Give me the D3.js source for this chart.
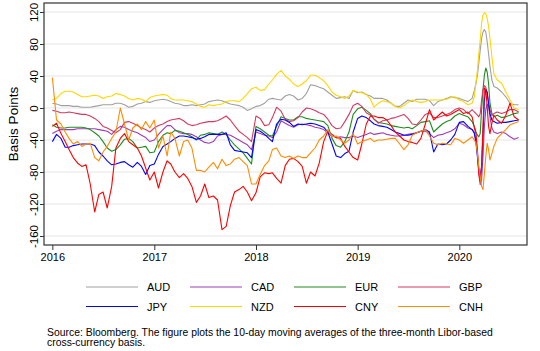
<!DOCTYPE html>
<html>
<head>
<meta charset="utf-8">
<script src="https://cdn.jsdelivr.net/npm/d3@7"></script>
<style>
  body { margin: 0; background: #fff; }
  svg { display: block; font-family: "Liberation Sans", Arial, sans-serif; }
</style>
</head>
<body>
<div id="chart"></div>
<script>
// semi-monthly observation dates, denser around the March 2020 spike
const dates = (
  "2016-01-01 2016-01-16 2016-02-01 2016-02-16 2016-03-01 2016-03-16 2016-04-01 2016-04-16 2016-05-01 2016-05-16 2016-06-01 2016-06-16 " +
  "2016-07-01 2016-07-16 2016-08-01 2016-08-16 2016-09-01 2016-09-16 2016-10-01 2016-10-16 2016-11-01 2016-11-16 2016-12-01 2016-12-16 " +
  "2017-01-01 2017-01-16 2017-02-01 2017-02-16 2017-03-01 2017-03-16 2017-04-01 2017-04-16 2017-05-01 2017-05-16 2017-06-01 2017-06-16 " +
  "2017-07-01 2017-07-16 2017-08-01 2017-08-16 2017-09-01 2017-09-16 2017-10-01 2017-10-16 2017-11-01 2017-11-16 2017-12-01 2017-12-16 " +
  "2018-01-01 2018-01-16 2018-02-01 2018-02-16 2018-03-01 2018-03-16 2018-04-01 2018-04-16 2018-05-01 2018-05-16 2018-06-01 2018-06-16 " +
  "2018-07-01 2018-07-16 2018-08-01 2018-08-16 2018-09-01 2018-09-16 2018-10-01 2018-10-16 2018-11-01 2018-11-16 2018-12-01 2018-12-16 " +
  "2019-01-01 2019-01-16 2019-02-01 2019-02-16 2019-03-01 2019-03-16 2019-04-01 2019-04-16 2019-05-01 2019-05-16 2019-06-01 2019-06-16 " +
  "2019-07-01 2019-07-16 2019-08-01 2019-08-16 2019-09-01 2019-09-16 2019-10-01 2019-10-16 2019-11-01 2019-11-16 2019-12-01 2019-12-16 " +
  "2020-01-01 2020-01-16 2020-02-01 2020-02-16 2020-02-24 2020-03-01 2020-03-06 2020-03-11 2020-03-16 2020-03-21 2020-03-26 2020-03-31 " +
  "2020-04-05 2020-04-10 2020-04-15 2020-04-20 2020-04-27 2020-05-04 2020-05-16 2020-06-01 2020-06-16 2020-07-01 2020-07-16 2020-08-01"
).split(" ");

const aud = [
  6,5,3,3,3,2,2,1,1,1,2,3,4,4,4,6,6,4,1,2,5,6,8,7,
  9,10,11,10,8,6,5,3,3,4,3,4,5,8,9,10,9,7,5,4,3,1,-3,-1,
  2,3,6,11,12,11,10,15,17,15,10,12,18,29,28,26,24,20,16,12,13,14,12,22,
  19,20,17,15,12,12,12,10,6,2,2,6,10,8,11,11,11,9,3,8,10,12,14,13,
  12,10,8,12,22,31,41,56,72,87,95,98,95,83,68,52,35,27,25,20,14,6,4,4
];
const cad = [
  -32,-29,-27,-27,-27,-27,-26,-26,-26,-26,-26,-27,-28,-29,-33,-27,-23,-24,-27,-29,-31,-34,-37,-42,
  -40,-33,-27,-22,-22,-27,-31,-32,-32,-33,-36,-40,-43,-44,-42,-35,-33,-33,-34,-37,-40,-43,-46,-52,
  -30,-32,-34,-35,-37,-30,-16,-19,-22,-24,-21,-20,-21,-22,-24,-25,-27,-31,-35,-37,-36,-37,-37,-35,
  -37,-35,-33,-31,-33,-32,-31,-33,-34,-35,-35,-34,-33,-32,-31,-29,-29,-32,-37,-34,-33,-31,-29,-26,
  -19,-21,-25,-27,-30,-40,-57,-82,-96,-90,-61,-23,-2,5,2,-11,-25,-30,-32,-30,-32,-36,-39,-37
];
const eur = [
  -21,-24,-25,-25,-24,-24,-24,-24,-25,-27,-31,-35,-42,-50,-54,-52,-46,-39,-38,-42,-50,-49,-48,-56,
  -55,-42,-34,-31,-32,-28,-29,-31,-33,-36,-40,-34,-33,-31,-32,-33,-30,-33,-40,-46,-51,-56,-63,-70,
  -23,-26,-30,-34,-35,-23,-11,-13,-15,-15,-11,-11,-13,-14,-15,-16,-17,-22,-38,-47,-49,-42,-30,-8,
  -1,1,-3,-7,-14,-18,-19,-20,-22,-23,-24,-25,-24,-26,-22,-18,-17,-16,-30,-25,-20,-17,-15,-10,
  -7,-9,-11,-17,-23,-30,-34,-36,-32,-2,23,41,50,45,31,6,-7,-11,-9,-12,-11,-9,-7,-6
];
const gbp = [
  -3,-4,-6,-6,-5,-6,-7,-8,-8,-10,-13,-17,-23,-25,-28,-31,-27,-18,-17,-19,-22,-25,-27,-30,
  -25,-22,-20,-17,-15,-14,-13,-16,-20,-22,-21,-19,-18,-17,-17,-16,-13,-10,-15,-22,-29,-33,-37,-42,
  -10,-13,-22,-21,-12,1,-4,-14,-17,-16,-12,-5,0,-1,-3,-6,-8,-14,-22,-26,-25,-17,-8,3,
  6,2,-6,-9,-14,-19,-16,-15,-13,-12,-10,-8,-13,-20,-21,-15,-8,-6,-12,-12,-10,-8,-6,-2,
  0,-2,-7,-2,-5,-7,-9,-11,-7,10,23,28,26,18,6,-2,-9,-7,-5,-7,-5,-2,-2,-5
];
const jpy = [
  -42,-33,-38,-49,-49,-47,-46,-45,-45,-45,-47,-55,-60,-66,-71,-70,-68,-67,-71,-74,-68,-73,-83,-72,
  -70,-58,-48,-45,-42,-38,-35,-35,-36,-37,-39,-38,-36,-33,-33,-33,-33,-31,-46,-53,-54,-55,-56,-62,
  -27,-29,-33,-38,-42,-20,-14,-15,-18,-23,-20,-21,-20,-19,-20,-22,-24,-30,-45,-60,-62,-57,-54,-30,
  -13,-10,-12,-16,-20,-22,-23,-24,-27,-30,-32,-34,-34,-33,-31,-29,-27,-30,-55,-45,-46,-45,-40,-33,
  -18,-17,-23,-27,-32,-44,-61,-77,-86,-73,-32,10,23,20,6,-7,-15,-17,-19,-18,-18,-17,-16,-15
];
const nzd = [
  10,12,18,21,21,20,17,14,14,15,16,15,12,14,15,18,17,15,12,10,12,11,8,13,
  15,16,17,16,12,10,10,10,9,8,5,2,1,4,3,4,5,8,9,9,8,12,18,24,
  26,22,23,30,35,42,47,40,36,30,27,30,34,41,41,38,34,28,20,16,14,12,15,22,
  20,19,17,11,1,6,9,8,6,2,0,3,7,10,8,7,8,10,10,10,10,11,13,14,
  10,8,4,6,14,33,47,68,85,106,116,119,118,112,102,87,64,43,35,31,20,10,0,-2
];
const cny = [
  -23,-19,-32,-42,-52,-62,-69,-73,-71,-95,-130,-108,-105,-125,-98,-50,-38,-32,-42,-46,-50,-60,-75,-90,
  -80,-100,-80,-66,-70,-80,-87,-82,-88,-98,-118,-110,-95,-112,-110,-115,-152,-148,-122,-105,-102,-98,-105,-116,
  -106,-86,-81,-82,-81,-88,-94,-72,-64,-63,-67,-73,-94,-80,-85,-69,-42,-29,-33,-37,-38,-48,-55,-62,
  -65,-45,-20,-10,-10,-12,-12,-15,-22,-30,-35,-40,-42,-43,-45,-38,-20,-2,-15,-10,-5,-10,-8,-5,
  -2,-7,-5,-11,-25,-32,-52,-82,-92,-73,-23,25,23,2,-23,-32,-19,-9,-15,-19,-9,6,-11,-15
];
const cnh = [
  38,-15,-20,-30,-38,-45,-42,-48,-45,-44,-62,-66,-55,-48,-38,-30,0,-20,-40,-25,-20,-27,-17,-25,
  -15,-50,-35,-60,-30,-38,-60,-42,-40,-50,-78,-78,-80,-74,-68,-76,-64,-72,-70,-64,-62,-67,-72,-95,
  -95,-83,-72,-66,-52,-50,-60,-62,-60,-63,-60,-62,-62,-56,-50,-40,-35,-27,-36,-35,-40,-44,-40,-32,
  -45,-42,-40,-38,-42,-40,-40,-39,-38,-38,-45,-52,-46,-34,-31,-29,-27,-35,-44,-46,-44,-45,-46,-38,
  -40,-44,-40,-36,-40,-44,-57,-73,-86,-98,-102,-82,-61,-44,-52,-65,-57,-48,-38,-32,-27,-21,-19,-17
];

const names = ["AUD", "CAD", "EUR", "GBP", "JPY", "NZD", "CNY", "CNH"];
const values = [aud, cad, eur, gbp, jpy, nzd, cny, cnh];
const colors = ["#a0a0a0", "#a03cb4", "#1e8c1e", "#d33a62", "#0000ff", "#ffd700", "#ff0000", "#ff8c00"];
const yTicks = [-160, -120, -80, -40, 0, 40, 80, 120];
const yearTicks = ["2016", "2017", "2018", "2019", "2020"];

const width = 540, height = 351;
const plot = { left: 44, top: 3, right: 527, bottom: 245 };

const parse = d3.timeParse("%Y-%m-%d");
const parsedDates = dates.map(parse);

const svg = d3.select("#chart").append("svg")
  .attr("width", width)
  .attr("height", height);

// -----------------------------
// Scales
// -----------------------------
const x = d3.scaleTime()
  .domain([parse("2015-12-02"), parse("2020-08-31")])
  .range([plot.left, plot.right]);

const y = d3.scaleLinear()
  .domain([-171.25, 131.25])
  .range([plot.bottom, plot.top]);

// -----------------------------
// Grid
// -----------------------------
svg.append("g")
  .selectAll("line")
  .data(yTicks)
  .join("line")
  .attr("x1", plot.left)
  .attr("x2", plot.right)
  .attr("y1", d => y(d))
  .attr("y2", d => y(d))
  .attr("stroke", "#e6e6e6")
  .attr("stroke-width", 1.2);

// -----------------------------
// Lines
// -----------------------------
const line = d3.line()
  .x((d, i) => x(parsedDates[i]))
  .y(d => y(d));

svg.append("g")
  .selectAll("path")
  .data(values)
  .join("path")
  .attr("fill", "none")
  .attr("stroke", (d, i) => colors[i])
  .attr("stroke-width", 1.1)
  .attr("stroke-linejoin", "round")
  .attr("d", line);

// -----------------------------
// Frame and axes
// -----------------------------
svg.append("rect")
  .attr("x", plot.left)
  .attr("y", plot.top)
  .attr("width", plot.right - plot.left)
  .attr("height", plot.bottom - plot.top)
  .attr("fill", "none")
  .attr("stroke", "#333")
  .attr("stroke-width", 1.2);

const yAxis = svg.append("g")
  .attr("transform", `translate(${plot.left},0)`)
  .call(d3.axisLeft(y).tickValues(yTicks).tickSize(4).tickFormat(d => String(d)));
yAxis.select(".domain").remove();
yAxis.selectAll("line").attr("stroke", "#333");
yAxis.selectAll("text")
  .attr("x", null)
  .attr("dy", null)
  .attr("text-anchor", "middle")
  .attr("transform", "translate(-6,0) rotate(-90)")
  .attr("fill", "#000")
  .style("font-size", "11.5px")
  .style("font-family", "Liberation Sans, Arial, sans-serif");

const xAxis = svg.append("g")
  .attr("transform", `translate(0,${plot.bottom})`)
  .call(d3.axisBottom(x).tickValues(yearTicks.map(t => parse(t + "-01-01")))
    .tickSize(5).tickFormat(d3.timeFormat("%Y")));
xAxis.select(".domain").remove();
xAxis.selectAll("line").attr("stroke", "#333");
xAxis.selectAll("text")
  .attr("fill", "#000")
  .style("font-size", "11px")
  .style("font-family", "Liberation Sans, Arial, sans-serif");

svg.append("text")
  .attr("transform", `translate(18,${(plot.top + plot.bottom) / 2}) rotate(-90)`)
  .attr("text-anchor", "middle")
  .style("font-size", "13.5px")
  .text("Basis Points");

// -----------------------------
// Legend
// -----------------------------
const legend = svg.append("g");
names.forEach((name, i) => {
  const col = i % 4, row = Math.floor(i / 4);
  const lx = 86 + col * 104;
  const ly = 287 + row * 19.5;
  legend.append("line")
    .attr("x1", lx).attr("x2", lx + 52)
    .attr("y1", ly).attr("y2", ly)
    .attr("stroke", colors[i])
    .attr("stroke-width", 1.1);
  legend.append("text")
    .attr("x", lx + 61)
    .attr("y", ly + 4)
    .style("font-size", "11px")
    .text(name);
});

// -----------------------------
// Note
// -----------------------------
const note = svg.append("text")
  .attr("x", 47)
  .attr("y", 335.5)
  .style("font-size", "10.4px");
note.append("tspan")
  .attr("x", 47)
  .text("Source: Bloomberg. The figure plots the 10-day moving averages of the three-month Libor-based");
note.append("tspan")
  .attr("x", 47)
  .attr("dy", 10.5)
  .text("cross-currency basis.");
</script>
</body>
</html>
